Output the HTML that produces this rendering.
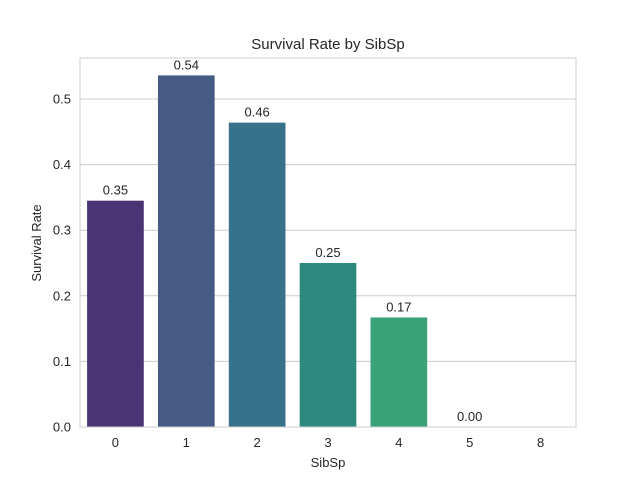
<!DOCTYPE html>
<html><head><meta charset="utf-8"><style>
body{margin:0;background:#fff;font-family:"Liberation Sans","DejaVu Sans",sans-serif;}
</style></head><body>
<svg id="chart" width="640" height="480" xmlns="http://www.w3.org/2000/svg">
<rect width="640" height="480" fill="#fff"/>
<g id="grid"></g><g id="bars"></g><g id="labels"></g><g id="ticks"></g>
<rect x="80" y="58" width="496" height="369" fill="none" stroke="#cccccc" stroke-width="1"/>
<text x="328" y="49" text-anchor="middle" font-size="15" fill="#262626">Survival Rate by SibSp</text>
<text x="328" y="467" text-anchor="middle" font-size="13" fill="#262626">SibSp</text>
<text transform="translate(41,243) rotate(-90)" text-anchor="middle" font-size="13" fill="#262626">Survival Rate</text>
</svg>
<script>
const categories=["0","1","2","3","4","5","8"];
const values=[0.345,0.536,0.464,0.25,0.167,0.0,0.0];
const valueLabels=["0.35","0.54","0.46","0.25","0.17","0.00",""];
const yTicks=[0,0.1,0.2,0.3,0.4,0.5];
const colors=["#4a3474","#455a84","#38728a","#2e8a80","#3ba27a","#6cbf5c","#b5d43c"];
const NS="http://www.w3.org/2000/svg";
const X0=80,W=496,Y0=427,H=369,YMAX=0.5625;
const y=v=>Y0-v/YMAX*H;
const band=W/categories.length;
const xc=i=>X0+band*(i+0.5);
function mk(t,a,p){const e=document.createElementNS(NS,t);for(const k in a)e.setAttribute(k,a[k]);p.appendChild(e);return e;}
const grid=document.getElementById('grid'),bars=document.getElementById('bars'),labels=document.getElementById('labels'),ticks=document.getElementById('ticks');
yTicks.forEach(t=>{
 const l=mk('line',{x1:X0,x2:X0+W,y1:y(t),y2:y(t),stroke:'#cccccc','stroke-width':1},grid);
 
 
 const tx=mk('text',{x:X0-9,y:y(t)+4.5,'text-anchor':'end','font-size':13,fill:'#262626'},ticks);
 tx.textContent=t.toFixed(1);
 
 
});
categories.forEach((c,i)=>{
 const bw=band*0.8;
 const r=mk('rect',{x:xc(i)-bw/2,y:y(values[i]),width:bw,height:Y0-y(values[i]),fill:colors[i]},bars);
 
 
 const tx=mk('text',{x:xc(i),y:Y0+20,'text-anchor':'middle','font-size':13,fill:'#262626'},ticks);
 tx.textContent=c;
 
 
 if(valueLabels[i]){
  const vl=mk('text',{x:xc(i),y:y(values[i])-6,'text-anchor':'middle','font-size':13,fill:'#262626'},labels);
  vl.textContent=valueLabels[i];
  
  
 }
});
</script>
</body></html>
